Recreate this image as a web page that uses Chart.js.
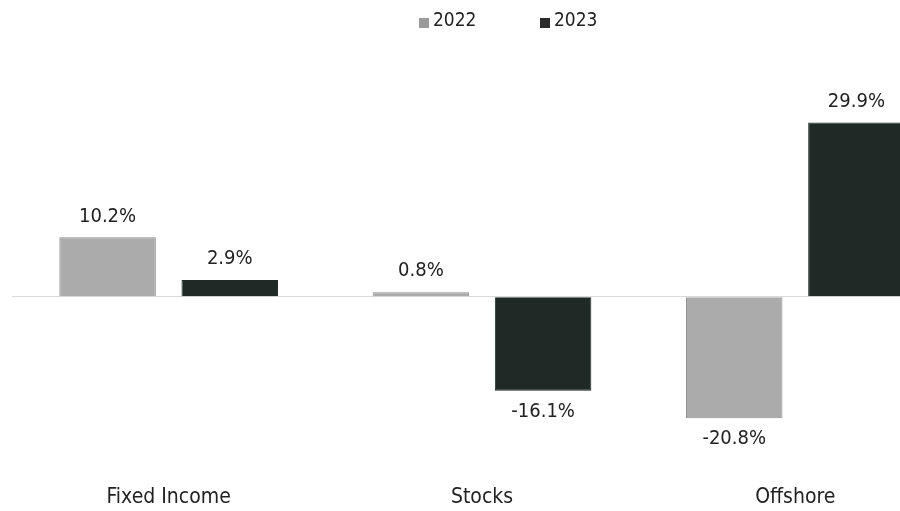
<!DOCTYPE html>
<html>
<head>
<meta charset="utf-8">
<script src="https://cdn.jsdelivr.net/npm/chart.js@4"></script>
<style>
    html, body { margin: 0; padding: 0; background: #fff; overflow: hidden; }
    #wrap { position: relative; width: 952px; height: 511px; }
</style>
</head>
<body>
<div id="wrap"><canvas id="returnsChart"></canvas></div>
<script>
// -------------------------
// Data
// -------------------------
const categories = ['Fixed Income', 'Stocks', 'Offshore'];
const seriesNames = ['2022', '2023'];
const values2022 = [10.2, 0.8, -20.8];
const values2023 = [2.9, -16.1, 29.9];

const FONT = "'Liberation Sans Narrow', 'DejaVu Sans Condensed', 'Liberation Sans', sans-serif";
const TEXT = '#222222';

// value labels above / below each bar
const valueLabels = {
    id: 'valueLabels',
    afterDatasetsDraw(chart) {
        const ctx = chart.ctx;
        ctx.save();
        ctx.font = '20px ' + FONT;
        ctx.fillStyle = TEXT;
        ctx.textAlign = 'center';
        ctx.textBaseline = 'middle';
        chart.data.datasets.forEach((ds, i) => {
            chart.getDatasetMeta(i).data.forEach((bar, j) => {
                const v = ds.data[j];
                const y = v >= 0 ? bar.y - 21 : bar.y + 21;
                ctx.fillText(v.toFixed(1) + '%', bar.x, y);
            });
        });
        ctx.restore();
    }
};

// simple legend at the top, spaced like the original
const topLegend = {
    id: 'topLegend',
    afterDraw(chart) {
        const ctx = chart.ctx;
        const starts = [419, 540];
        ctx.save();
        ctx.font = '19px ' + FONT;
        ctx.textBaseline = 'middle';
        ctx.textAlign = 'left';
        chart.data.datasets.forEach((ds, i) => {
            const x = starts[i];
            ctx.fillStyle = ds.legendColor;
            ctx.fillRect(x, 18, 10, 10);
            ctx.fillStyle = TEXT;
            ctx.fillText(ds.label, x + 14, 21);
        });
        ctx.restore();
    }
};

new Chart(document.getElementById('returnsChart'), {
    type: 'bar',
    data: {
        labels: categories,
        datasets: [
            {
                label: seriesNames[0],
                data: values2022,
                backgroundColor: '#ababab',
                borderColor: '#8f8f8f',
                borderWidth: 1,
                legendColor: '#9a9a9a'
            },
            {
                label: seriesNames[1],
                data: values2023,
                backgroundColor: '#1f2a26',
                borderColor: '#1f2a26',
                borderWidth: 1,
                legendColor: '#2a2a2a'
            }
        ]
    },
    options: {
        responsive: true,
        maintainAspectRatio: false,
        animation: false,
        categoryPercentage: 0.78,
        barPercentage: 0.79,
        layout: { padding: { top: 49, left: 12, right: 0, bottom: -12 } },
        plugins: {
            legend: { display: false },
            tooltip: { enabled: false }
        },
        scales: {
            x: {
                grid: { display: false, drawTicks: false },
                border: { display: false },
                ticks: {
                    color: TEXT,
                    padding: 13,
                    font: { family: FONT, size: 21 }
                }
            },
            y: {
                min: -30,
                max: 42.5,
                grid: {
                    drawTicks: false,
                    color: ctx => (ctx.tick && ctx.tick.value === 0) ? '#d9d9d9' : 'rgba(0,0,0,0)'
                },
                border: { display: false },
                ticks: { display: false, stepSize: 10 }
            }
        }
    },
    plugins: [valueLabels, topLegend]
});
</script>
</body>
</html>
